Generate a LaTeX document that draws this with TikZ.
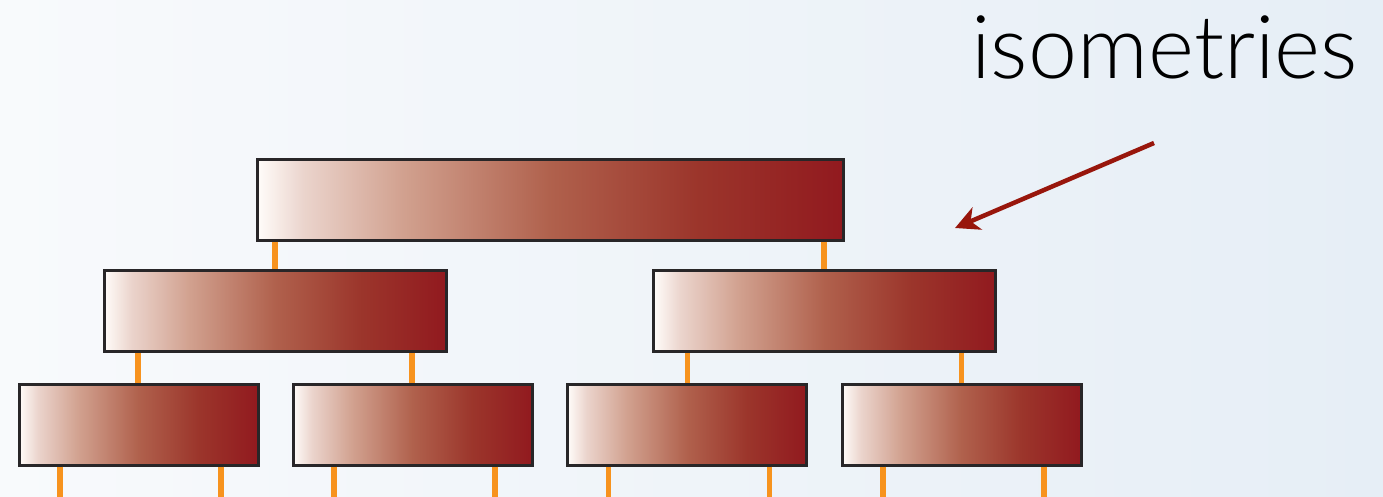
\documentclass[tikz,border=0pt]{standalone}
\usepackage{fontspec}
\newfontfamily\labfont{Lato Light}
\usetikzlibrary{arrows.meta}

\definecolor{bgleft}{RGB}{248,250,252}
\definecolor{bgright}{RGB}{230,238,246}
\definecolor{boxline}{RGB}{40,38,40}
\definecolor{legcol}{RGB}{247,147,30}
\definecolor{arrcol}{RGB}{152,22,12}

% white-to-crimson fade used inside every tensor box
% (TikZ maps the 25bp--75bp band of a shading onto the path)
\pgfdeclarehorizontalshading{boxshade}{100bp}{%
  rgb(0bp)=(1,0.99,0.98);
  rgb(25bp)=(1,0.99,0.98);
  rgb(29bp)=(0.92,0.83,0.80);
  rgb(37.5bp)=(0.82,0.63,0.56);
  rgb(50bp)=(0.69,0.38,0.30);
  rgb(62.5bp)=(0.61,0.21,0.17);
  rgb(75bp)=(0.57,0.10,0.12);
  rgb(100bp)=(0.57,0.10,0.12)}

\tikzset{
  tensor/.style={draw=boxline, line width=3pt, shading=boxshade,
    inner sep=0pt, outer sep=0pt, minimum height=81pt},
  wide/.style={tensor, minimum width=586pt},
  mid/.style={tensor, minimum width=342pt},
  small/.style={tensor, minimum width=239pt},
  leg/.style={draw=legcol, line width=5.5pt, shorten <=1.5pt, shorten >=1.5pt},
  pointer/.style={draw=arrcol, line width=4.5pt,
    -{Stealth[length=24pt,width=24pt,inset=7pt]}}
}

\begin{document}
\begin{tikzpicture}[x=1pt,y=-1pt]
  % backdrop
  \fill[left color=bgleft, right color=bgright] (0,0) rectangle (1383,496);
  \useasboundingbox (0,0) rectangle (1383,496);

  % top layer
  \node[wide] (top) at (550,199.5) {};
  % middle layer
  \node[mid] (ml) at (275,311) {};
  \node[mid] (mr) at (824.5,311) {};
  % bottom layer
  \node[small] (b1) at (138.5,424.5) {};
  \node[small] (b2) at (412.5,424.5) {};
  \node[small] (b3) at (687,424.5) {};
  \node[small] (b4) at (961.5,424.5) {};

  % leg feet on the lower edge of each upper box
  \coordinate (t1) at ([xshift=18pt]top.south west);
  \coordinate (t2) at ([xshift=567pt]top.south west);
  \coordinate (l1) at ([xshift=34pt]ml.south west);
  \coordinate (l2) at ([xshift=308pt]ml.south west);
  \coordinate (r1) at ([xshift=34pt]mr.south west);
  \coordinate (r2) at ([xshift=308pt]mr.south west);

  % legs between layers
  \draw[leg] (t1) -- (t1 |- ml.north);
  \draw[leg] (t2) -- (t2 |- mr.north);
  \draw[leg] (l1) -- (l1 |- b1.north);
  \draw[leg] (l2) -- (l2 |- b2.north);
  \draw[leg] (r1) -- (r1 |- b3.north);
  \draw[leg] (r2) -- (r2 |- b4.north);

  % open legs at the bottom
  \foreach \n in {b1,b2,b3,b4}{
    \coordinate (\n l) at ([xshift=41pt,yshift=-40pt]\n.south west);
    \coordinate (\n r) at ([xshift=202pt,yshift=-40pt]\n.south west);
    \draw[leg, shorten >=0pt] ([xshift=41pt]\n.south west) -- (\n l);
    \draw[leg, shorten >=0pt] ([xshift=202pt]\n.south west) -- (\n r);
  }

  % label and pointer
  \node[anchor=base west, inner sep=0pt, font=\labfont\fontsize{88}{92}\selectfont] (lbl) at (971,78) {isometries};
  \coordinate (ptail) at (1154,143);
  \coordinate (phead) at (955,228);
  \draw[pointer] (ptail) -- (phead);
\end{tikzpicture}
\end{document}
